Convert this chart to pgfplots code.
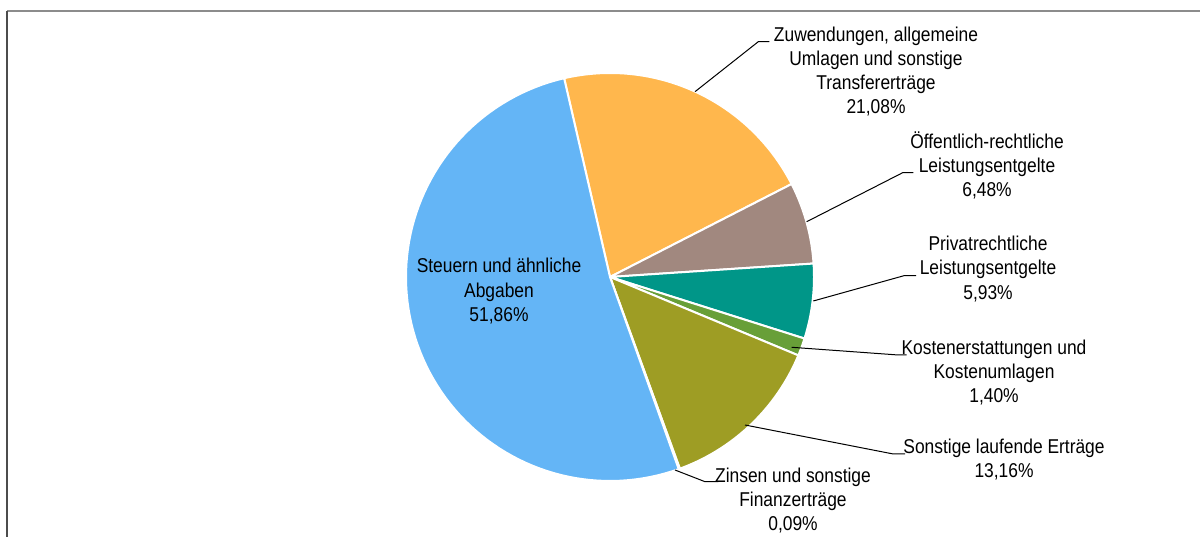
\documentclass[border=0pt]{standalone}
\usepackage{pgfplots}
\pgfplotsset{compat=1.18}
\usepackage{fontspec}
\setmainfont[FakeStretch=0.87]{Liberation Sans}

\definecolor{steuern}{HTML}{64B5F6}
\definecolor{zuwend}{HTML}{FFB74D}
\definecolor{oeffent}{HTML}{A1887F}
\definecolor{privat}{HTML}{009688}
\definecolor{kosten}{HTML}{689F38}
\definecolor{sonstige}{HTML}{9E9D24}
\definecolor{zinsen}{HTML}{5D4037}
\definecolor{framegray}{HTML}{8C8C8C}

% labels are placed at the baseline of their last line
\tikzset{lbl/.style={anchor=base,align=center,inner sep=0pt,font=\fontsize{20}{24.3}\selectfont}}

% pie: centre and radius in pixel units, slices run clockwise from \curang
\newcommand\curang{103}
\newcommand\slice[2]{%
  \pgfmathsetmacro\endang{\curang-3.6*#1}%
  \edef\doslice{\noexpand\addplot[fill=#2,draw=white,line width=2pt,line join=round,domain=\endang:\curang,samples=90]
    ({610+204*cos(x)},{-277+204*sin(x)}) -- (axis cs:610,-277) -- cycle;}%
  \doslice
  \global\let\curang\endang}

\begin{document}
\begin{tikzpicture}
\begin{axis}[scale only axis,width=1200pt,height=537pt,
  xmin=0,xmax=1200,ymin=-537,ymax=0,hide axis,clip=false]
% frame (cut at right and bottom)
\addplot[framegray,line width=1.6pt,no marks] coordinates {(7,-11) (1200,-11)};
\addplot[black!70,line width=1.6pt,no marks] coordinates {(7,-537) (7,-11)};
% slices, in percent
\slice{21.08}{zuwend}
\slice{6.48}{oeffent}
\slice{5.93}{privat}
\slice{1.40}{kosten}
\slice{13.16}{sonstige}
\slice{0.09}{zinsen}
\slice{51.86}{steuern}
% leader lines
\addplot[black,line width=1pt,no marks] coordinates {(695,-91.7) (758.3,-41.7) (769.3,-41.7)};
\addplot[black,line width=1pt,no marks] coordinates {(806.7,-221.7) (902.7,-172.7) (913.3,-172.7)};
\addplot[black,line width=1pt,no marks] coordinates {(813.3,-301) (904,-275.7) (916,-275.7)};
\addplot[black,line width=1pt,no marks] coordinates {(791.7,-347.3) (898.3,-355) (906.7,-355)};
\addplot[black,line width=1pt,no marks] coordinates {(745,-425) (893.3,-454) (905,-454)};
\addplot[black,line width=1pt,no marks] coordinates {(675,-470) (705,-481.7) (718.3,-481.7)};
% labels
\node[lbl] at (axis cs:499,-321.5) {Steuern und ähnliche\\Abgaben\\51,86\%};
\node[lbl] at (axis cs:876,-114) {Zuwendungen, allgemeine\\Umlagen und sonstige\\Transfererträge\\21,08\%};
\node[lbl] at (axis cs:987,-197) {Öffentlich-rechtliche\\Leistungsentgelte\\6,48\%};
\node[lbl] at (axis cs:988,-299.3) {Privatrechtliche\\Leistungsentgelte\\5,93\%};
\node[lbl] at (axis cs:994,-403) {Kostenerstattungen und\\Kostenumlagen\\1,40\%};
\node[lbl] at (axis cs:1004,-478) {Sonstige laufende Erträge\\13,16\%};
\node[lbl] at (axis cs:793,-531) {Zinsen und sonstige\\Finanzerträge\\0,09\%};
\end{axis}
\pgfresetboundingbox
\path (0,0) rectangle (1200pt,537pt);
\end{tikzpicture}
\end{document}
